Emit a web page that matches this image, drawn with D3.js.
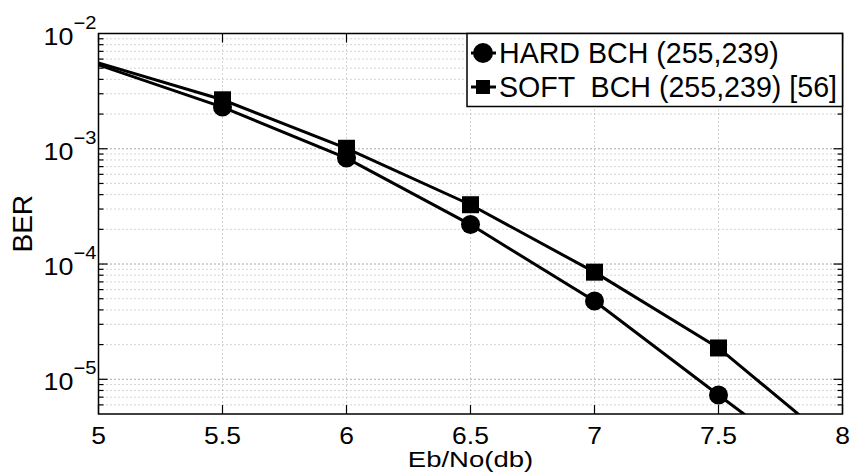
<!DOCTYPE html>
<head>
<style>
body { margin: 0; background: #fff; }
svg { font-family: "Liberation Sans", Arial, sans-serif; }
</style>
<script src="https://d3js.org/d3.v7.min.js"></script>
</head>
<body>
<svg id="berSvg" width="852" height="472"></svg>
<script>

var width = 852;
var height = 472;
var margin = {top: 33.5, right: 9.5, bottom: 58, left: 98.5};

// Eb/No points (4.5 lies left of the axis and is clipped, like the original)
var ebno = [4.5, 5.5, 6, 6.5, 7, 7.5, 8];
var hardBer = [1.24e-2, 2.30e-3, 8.3e-4, 2.2e-4, 4.77e-5, 7.3e-6, 1.15e-6];
var softBer = [1.16e-2, 2.66e-3, 1.01e-3, 3.27e-4, 8.5e-5, 1.87e-5, 2.4e-6];

var xTicks = [5, 5.5, 6, 6.5, 7, 7.5, 8];
var xTickLabels = ["5", "5.5", "6", "6.5", "7", "7.5", "8"];
var yDecades = [-5, -4, -3, -2];
var legendNames = ["HARD BCH (255,239)", "SOFT  BCH (255,239) [56]"];

var x = d3.scaleLinear().domain([5, 8]).range([margin.left, width - margin.right]);
var y = d3.scaleLog().domain([5e-6, 1e-2]).range([height - margin.bottom, margin.top]);

var svg = d3.select("#berSvg");
var x0 = x.range()[0], x1 = x.range()[1];
var yb = y.range()[0], yt = y.range()[1];

svg.append("defs").append("clipPath").attr("id", "plotClip")
  .append("rect")
  .attr("x", x0).attr("y", yt)
  .attr("width", x1 - x0).attr("height", yb - yt);

// minor values 2..9 in each decade that fall inside the domain
var minorVals = [];
[-6, -5, -4, -3].forEach(function(e) {
  for (var k = 1; k <= 9; k++) {
    var v = k * Math.pow(10, e);
    if (v >= 5e-6 && v <= 1e-2) minorVals.push(v);
  }
});

var grid = svg.append("g");
grid.selectAll(".hgrid")
  .data(minorVals)
  .enter().append("line")
  .attr("x1", x0).attr("x2", x1)
  .attr("y1", function(d) { return y(d); })
  .attr("y2", function(d) { return y(d); })
  .style("stroke", function(d) {
    var l = Math.log10(d);
    return Math.abs(l - Math.round(l)) < 1e-9 ? "#555" : "#aaa";
  })
  .style("stroke-width", 1)
  .style("stroke-dasharray", "1,3");

grid.selectAll(".vgrid")
  .data(xTicks.slice(1, -1))
  .enter().append("line")
  .attr("x1", function(d) { return x(d); })
  .attr("x2", function(d) { return x(d); })
  .attr("y1", yt).attr("y2", yb)
  .style("stroke", "#aaa")
  .style("stroke-width", 1)
  .style("stroke-dasharray", "1,3");

// tick marks, drawn inward on all four sides
var ticks = svg.append("g").style("stroke", "#000").style("stroke-width", 1.2);
xTicks.forEach(function(t) {
  ticks.append("line").attr("x1", x(t)).attr("x2", x(t)).attr("y1", yb).attr("y2", yb - 9);
  ticks.append("line").attr("x1", x(t)).attr("x2", x(t)).attr("y1", yt).attr("y2", yt + 9);
});
minorVals.forEach(function(v) {
  var l = Math.log10(v);
  var len = Math.abs(l - Math.round(l)) < 1e-9 ? 9 : 5;
  ticks.append("line").attr("x1", x0).attr("x2", x0 + len).attr("y1", y(v)).attr("y2", y(v));
  ticks.append("line").attr("x1", x1).attr("x2", x1 - len).attr("y1", y(v)).attr("y2", y(v));
});

// axis box
svg.append("rect")
  .attr("x", x0).attr("y", yt)
  .attr("width", x1 - x0).attr("height", yb - yt)
  .style("fill", "none")
  .style("stroke", "#000")
  .style("stroke-width", 1.5);

// x tick labels
svg.append("g").selectAll("text")
  .data(xTicks)
  .enter().append("text")
  .attr("transform", function(d) { return "translate(" + x(d) + "," + (yb + 30) + ") scale(1.15,1)"; })
  .attr("text-anchor", "middle")
  .style("font-size", "23px")
  .text(function(d, i) { return xTickLabels[i]; });

// y tick labels 10^k
var yl = svg.append("g").selectAll("text")
  .data(yDecades)
  .enter().append("text")
  .attr("transform", function(d) { return "translate(" + (x0 - 2) + "," + (y(Math.pow(10, d)) + 11) + ") scale(1.12,1)"; })
  .attr("text-anchor", "end");
yl.append("tspan").style("font-size", "24px").text("10");
yl.append("tspan").style("font-size", "18px").attr("dy", -16)
  .text(function(d) { return "\u2212" + Math.abs(d); });

// axis labels
svg.append("text")
  .attr("transform", "translate(32," + ((yt + yb) / 2) + ") rotate(-90)")
  .attr("text-anchor", "middle")
  .style("font-size", "28px")
  .text("BER");

svg.append("text")
  .attr("transform", "translate(" + ((x0 + x1) / 2) + "," + (height - 5) + ") scale(1.25,1)")
  .attr("text-anchor", "middle")
  .style("font-size", "22px")
  .text("Eb/No(db)");

// curves
var line = d3.line()
  .x(function(d) { return x(d[0]); })
  .y(function(d) { return y(d[1]); });

var series = [
  {name: legendNames[0], vals: hardBer, shape: "circle"},
  {name: legendNames[1], vals: softBer, shape: "square"}
];

var plot = svg.append("g").attr("clip-path", "url(#plotClip)");

function drawMarker(g, shape, cx, cy) {
  if (shape === "circle") {
    g.append("circle").attr("cx", cx).attr("cy", cy).attr("r", 9.5).style("fill", "#000");
  } else {
    g.append("rect").attr("x", cx - 8.5).attr("y", cy - 8.5)
      .attr("width", 17).attr("height", 17).style("fill", "#000");
  }
}

series.forEach(function(s) {
  var pts = ebno.map(function(e, i) { return [e, s.vals[i]]; });
  plot.append("path")
    .datum(pts)
    .attr("d", line)
    .style("fill", "none")
    .style("stroke", "#000")
    .style("stroke-width", 3);
  pts.forEach(function(p) {
    if (p[0] >= 5 && p[0] <= 8 && p[1] >= 5e-6 && p[1] <= 1e-2) {
      drawMarker(plot, s.shape, x(p[0]), y(p[1]));
    }
  });
});

// legend box in the top-right corner
var lg = svg.append("g");
lg.append("rect")
  .attr("x", 467).attr("y", yt)
  .attr("width", x1 - 467).attr("height", 73)
  .style("fill", "#fff")
  .style("stroke", "#000")
  .style("stroke-width", 1.5);

series.forEach(function(s, i) {
  var cy = 53 + i * 34;
  lg.append("line")
    .attr("x1", 471).attr("x2", 496)
    .attr("y1", cy).attr("y2", cy)
    .style("stroke", "#000").style("stroke-width", 3);
  if (s.shape === "circle") {
    lg.append("circle").attr("cx", 483).attr("cy", cy).attr("r", 10).style("fill", "#000");
  } else {
    lg.append("rect").attr("x", 476).attr("y", cy - 7).attr("width", 14).attr("height", 14).style("fill", "#000");
  }
  lg.append("text")
    .attr("x", 499).attr("y", cy + 10)
    .attr("xml:space", "preserve")
    .style("white-space", "pre")
    .style("font-size", "28.6px")
    .text(s.name);
});

</script>
</body>
</html>
